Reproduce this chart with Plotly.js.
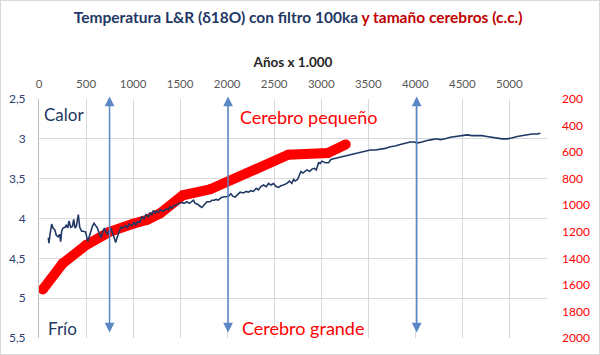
<!DOCTYPE html>
<html><head><meta charset="utf-8">
<script src="https://cdn.plot.ly/plotly-3.0.1.min.js"></script>
<style>
html,body{margin:0;padding:0;background:#fff;}
#wrap{position:relative;width:600px;height:355px;}
#chart{width:600px;height:355px;}
#border{position:absolute;left:0;top:0;width:598px;height:353px;border:1px solid #D9D9D9;pointer-events:none;}
</style>
</head><body>
<div id="wrap"><div id="chart"></div><div id="border"></div></div>
<script>
// Temperature (δ18O, 100ka filter) — years x 1000
const tempYears = [99,106,117,135,149,167,184,202,220,230,241,255,277,291,305,319,337,355,369,383,
 397,418,433,454,472,496,518,532,550,567,585,603,621,638,660,674,695,709,727,745,
 762,780,798,816,833,851,869,887,904,922,940,957,986,1011,1028,1046,1064,
 1074,1092,1117,1138,1163,1181,1199,1216,1234,1252,1270,1287,1323,1351,1376,1394,1411,1429,1465,1482,
 1518,1543,1571,1599,1624,1642,1660,1684,1706,1731,1748,1766,1784,1819,1837,1862,1883,1908,1933,1961,
 1989,2014,2039,2060,2085,2110,
 2138,2174,2202,2227,2252,2280,2309,2333,2358,2387,2415,2440,2465,2493,2521,2546,2571,2599,2635,2663,
 2688,2706,2723,2748,2770,2784,2805,2830,2848,2876,2901,2926,2947,2972,2989,3007,3043,3078,3103,3131,
 3167,3195,
 3255,3309,3362,3415,3468,3521,3574,3628,3681,3734,3787,3840,3894,3947,3982,4025,4071,4124,4177,4230,
 4266,4319,4372,4443,4496,4550,4603,4656,4709,4762,4816,4869,4922,4975,5028,5082,5135,5188,5241,5294,5330];
const tempD18O = [4.24,4.31,4.20,4.07,4.12,4.14,4.21,4.23,4.20,4.29,4.16,4.12,4.11,4.08,4.12,4.03,4.11,4.10,4.01,4.12,
 4.10,3.95,4.11,4.16,4.16,4.17,4.29,4.23,4.16,4.10,4.06,4.10,4.12,4.18,4.24,4.18,4.12,4.16,4.20,4.16,
 4.12,4.18,4.25,4.30,4.23,4.16,4.11,4.12,4.10,4.09,4.12,4.07,4.09,4.05,4.08,4.04,4.05,
 4.04,3.98,4.00,3.95,3.98,3.93,3.95,3.90,3.93,3.91,3.92,3.89,3.91,3.88,3.89,3.85,3.87,3.84,3.83,3.81,
 3.80,3.81,3.79,3.81,3.79,3.77,3.81,3.82,3.84,3.86,3.84,3.81,3.79,3.79,3.77,3.77,3.76,3.77,3.74,3.73,
 3.72,3.72,3.69,3.72,3.73,3.70,
 3.67,3.68,3.66,3.67,3.65,3.66,3.62,3.64,3.60,3.58,3.60,3.56,3.58,3.56,3.60,3.61,3.59,3.58,3.56,3.53,
 3.56,3.51,3.53,3.51,3.45,3.41,3.43,3.41,3.39,3.41,3.38,3.37,3.39,3.30,3.31,3.28,3.30,3.30,3.26,3.25,
 3.24,3.23,
 3.22,3.20,3.19,3.17,3.16,3.14,3.14,3.13,3.12,3.10,3.09,3.07,3.05,3.04,3.04,3.05,3.04,3.02,3.01,3.00,
 3.01,3.00,2.98,2.97,2.96,2.95,2.96,2.96,2.96,2.97,2.98,2.99,3.00,3.00,2.99,2.97,2.96,2.95,2.94,2.94,2.93];

// Brain size (c.c.)
const brainYears = [40, 250, 500, 750, 1000, 1150, 1290, 1530, 1820, 2650, 3070, 3260];
const brainCC    = [1635, 1440, 1300, 1200, 1140, 1110, 1060, 925, 880, 620, 607, 542];

// Vertical double arrows (years x 1000)
const arrowYears = [750, 2010, 4015];

// Axis ranges / ticks
const xRange = [0, 5400];
const tempRange = [5.5, 2.5];
const brainRange = [2000, 200];

const NAVY = '#1F3864';
const RED = '#FF0000';
const GRID = '#D9D9D9';
const FONT = 'Lato, "Open Sans", sans-serif';

const traces = [
  {x: brainYears, y: brainCC, type: 'scatter', mode: 'lines+markers', xaxis: 'x', yaxis: 'y',
   line: {color: RED, width: 10}, marker: {color: RED, size: 10}, hoverinfo: 'skip', showlegend: false},
  {x: tempYears, y: tempD18O, type: 'scatter', mode: 'lines', xaxis: 'x', yaxis: 'y2',
   line: {color: NAVY, width: 1.6}, hoverinfo: 'skip', showlegend: false}
];

const annotations = [];
arrowYears.forEach(a => {
  annotations.push({x: a, y: 2.47, ax: a, ay: 5.45, xref: 'x', yref: 'y2', axref: 'x', ayref: 'y2',
    text: '', showarrow: true, arrowhead: 2, startarrowhead: 2, arrowside: 'end+start',
    arrowsize: 1.3, startarrowsize: 1.3, arrowwidth: 1.5, arrowcolor: '#5B87C5'});
});
annotations.push(
  {x: 30, y: 2.70, xref: 'x', yref: 'y2', text: 'Calor', showarrow: false, xanchor: 'left', yanchor: 'middle',
   font: {family: FONT, size: 17, color: NAVY}},
  {x: 75, y: 5.38, xref: 'x', yref: 'y2', text: 'Frío', showarrow: false, xanchor: 'left', yanchor: 'middle',
   font: {family: FONT, size: 17, color: NAVY}},
  {x: 2117, y: 2.73, xref: 'x', yref: 'y2', text: 'Cerebro pequeño', showarrow: false, xanchor: 'left', yanchor: 'middle',
   font: {family: FONT, size: 18, color: RED}},
  {x: 2138, y: 5.38, xref: 'x', yref: 'y2', text: 'Cerebro grande', showarrow: false, xanchor: 'left', yanchor: 'middle',
   font: {family: FONT, size: 18, color: RED}}
);

const layout = {
  width: 600, height: 355,
  margin: {l: 39, r: 53, t: 99, b: 17, pad: 0},
  paper_bgcolor: '#fff', plot_bgcolor: '#fff',
  separators: ',.',
  font: {family: FONT},
  showlegend: false,
  title: {
    text: '<b><span style="color:#1F3864">Temperatura L&amp;R (δ18O) con filtro 100ka</span> <span style="color:#C00000">y tamaño cerebros (c.c.)</span></b>',
    font: {family: FONT, size: 15.5}, x: 0.497, xanchor: 'center', y: 1 - 18/355, yanchor: 'middle', yref: 'container'
  },
  xaxis: {
    side: 'top', range: xRange, dtick: 500, tick0: 0, showgrid: true, gridcolor: GRID, gridwidth: 1,
    zeroline: false, showline: false, ticks: '', ticklabelstandoff: 8,
    tickfont: {family: FONT, size: 11.5, color: '#595959'},
    title: {text: '<b>Años x 1.000</b>', font: {family: FONT, size: 13.5, color: '#262626'}, standoff: 5}
  },
  yaxis: {
    side: 'right', range: brainRange, dtick: 200, tick0: 200, showgrid: false, zeroline: false,
    showline: false, ticks: '', ticklabelstandoff: 14,
    tickfont: {family: FONT, size: 12, color: RED}
  },
  yaxis2: {
    side: 'left', overlaying: 'y', range: tempRange, dtick: 0.5, tick0: 2.5, showgrid: true, gridcolor: GRID,
    zeroline: false, showline: true, linecolor: '#BFBFBF', linewidth: 1, ticks: '', ticklabelstandoff: 10,
    tickfont: {family: FONT, size: 12, color: '#2E3F70'}
  },
  yaxis3: {
    side: 'left', overlaying: 'y', anchor: 'x', range: brainRange, dtick: 200, tick0: 200, showgrid: false,
    zeroline: false, showline: false, ticks: 'outside', ticklen: 4, tickcolor: '#A6A6A6', tickwidth: 1,
    showticklabels: false
  },
  annotations: annotations
};

Plotly.newPlot('chart', traces, layout, {displayModeBar: false, staticPlot: true});
</script>
</body></html>
